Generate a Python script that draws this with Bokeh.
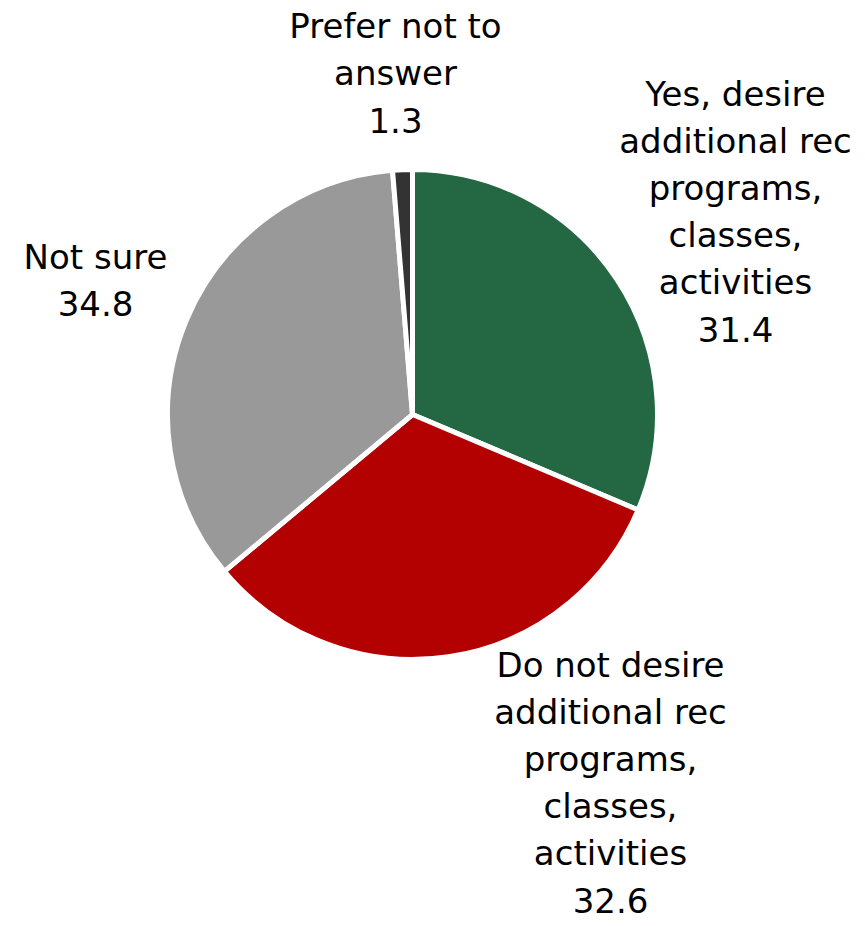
import math
from bokeh.plotting import figure
from bokeh.models import ColumnDataSource, Range1d
from bokeh.core.properties import value
from bokeh.embed import file_html
from bokeh.resources import INLINE

# ---- data ----
categories = [
    "Yes, desire\nadditional rec\nprograms,\nclasses,\nactivities",
    "Do not desire\nadditional rec\nprograms,\nclasses,\nactivities",
    "Not sure",
    "Prefer not to\nanswer",
]
values = [31.4, 32.6, 34.8, 1.3]
colors = ["#236743", "#b30000", "#999999", "#333333"]

# ---- layout ----
W, H = 865, 926
cx, cy = 412, H - 414
R = 245
# label anchor offsets from centre (pixels, x right / y up)
label_offsets = [(323, 203), (198, -368), (-317, 134), (-17, 341)]

total = sum(values)
starts, ends = [], []
acc = 0.0
for v in values:
    starts.append(math.pi / 2 - 2 * math.pi * acc / total)
    acc += v
    ends.append(math.pi / 2 - 2 * math.pi * acc / total)

src = ColumnDataSource(dict(
    x=[cx] * len(values), y=[cy] * len(values),
    start=starts, end=ends, color=colors,
))

p = figure(width=W, height=H, output_backend="svg", toolbar_location=None,
           x_range=Range1d(0, W), y_range=Range1d(0, H), min_border=0)
p.axis.visible = False
p.grid.visible = False
p.outline_line_color = None
p.background_fill_color = "white"

p.wedge(x="x", y="y", radius=R, start_angle="start", end_angle="end",
        direction="clock", fill_color="color", line_color="white",
        line_width=5, source=src)

lab = ColumnDataSource(dict(
    x=[cx + dx for dx, dy in label_offsets],
    y=[cy + dy for dx, dy in label_offsets],
    text=[f"{c}\n{v}" for c, v in zip(categories, values)],
))
p.text(x="x", y="y", text="text", source=lab, text_align="center",
       text_baseline="middle", text_font=value("DejaVu Sans"),
       text_font_size="34px", text_line_height=1.18, text_color="#000000")

open("out.html", "w").write(file_html(p, INLINE))
